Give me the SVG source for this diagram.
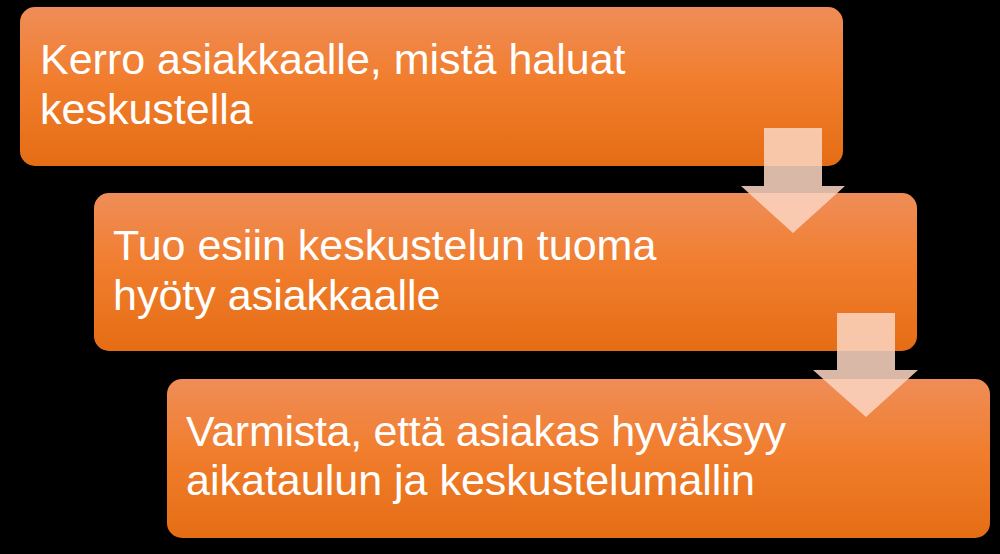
<svg xmlns="http://www.w3.org/2000/svg" width="1000" height="554" viewBox="0 0 1000 554">
<defs>
<linearGradient id="og" x1="0" y1="0" x2="0" y2="1">
<stop offset="0" stop-color="#EF8D58"/>
<stop offset="0.45" stop-color="#F17E2E"/>
<stop offset="1" stop-color="#E56D14"/>
</linearGradient>
</defs>
<style>
.box{fill:url(#og);}
.t{font-family:"Liberation Sans",Arial,sans-serif;font-size:43px;fill:#FFFFFF;}
.arr{fill:#FAD3C0;fill-opacity:0.87;}
</style>
<rect width="1000" height="554" fill="#000000"/>
<g id="node1">
<rect class="box" x="20" y="7" width="823" height="159" rx="15"/>
<text class="t" x="40" y="74">Kerro asiakkaalle, mistä haluat</text>
<text class="t" x="40" y="124">keskustella</text>
</g>
<g id="node2">
<rect class="box" x="94" y="193" width="823" height="158" rx="15"/>
<text class="t" x="113" y="260">Tuo esiin keskustelun tuoma</text>
<text class="t" x="113" y="310">hyöty asiakkaalle</text>
</g>
<g id="node3">
<rect class="box" x="167" y="379" width="823" height="159" rx="15"/>
<text class="t" x="186" y="446" textLength="600" lengthAdjust="spacing">Varmista, että asiakas hyväksyy</text>
<text class="t" x="186" y="495">aikataulun ja keskustelumallin</text>
</g>
<g id="connectors">
<path class="arr" d="M764,128 H822 V186 H845 L793,233 L741,186 H764 Z"/>
<path class="arr" d="M837,313 H895 V370 H918 L866,417 L813,370 H837 Z"/>
</g>
</svg>
